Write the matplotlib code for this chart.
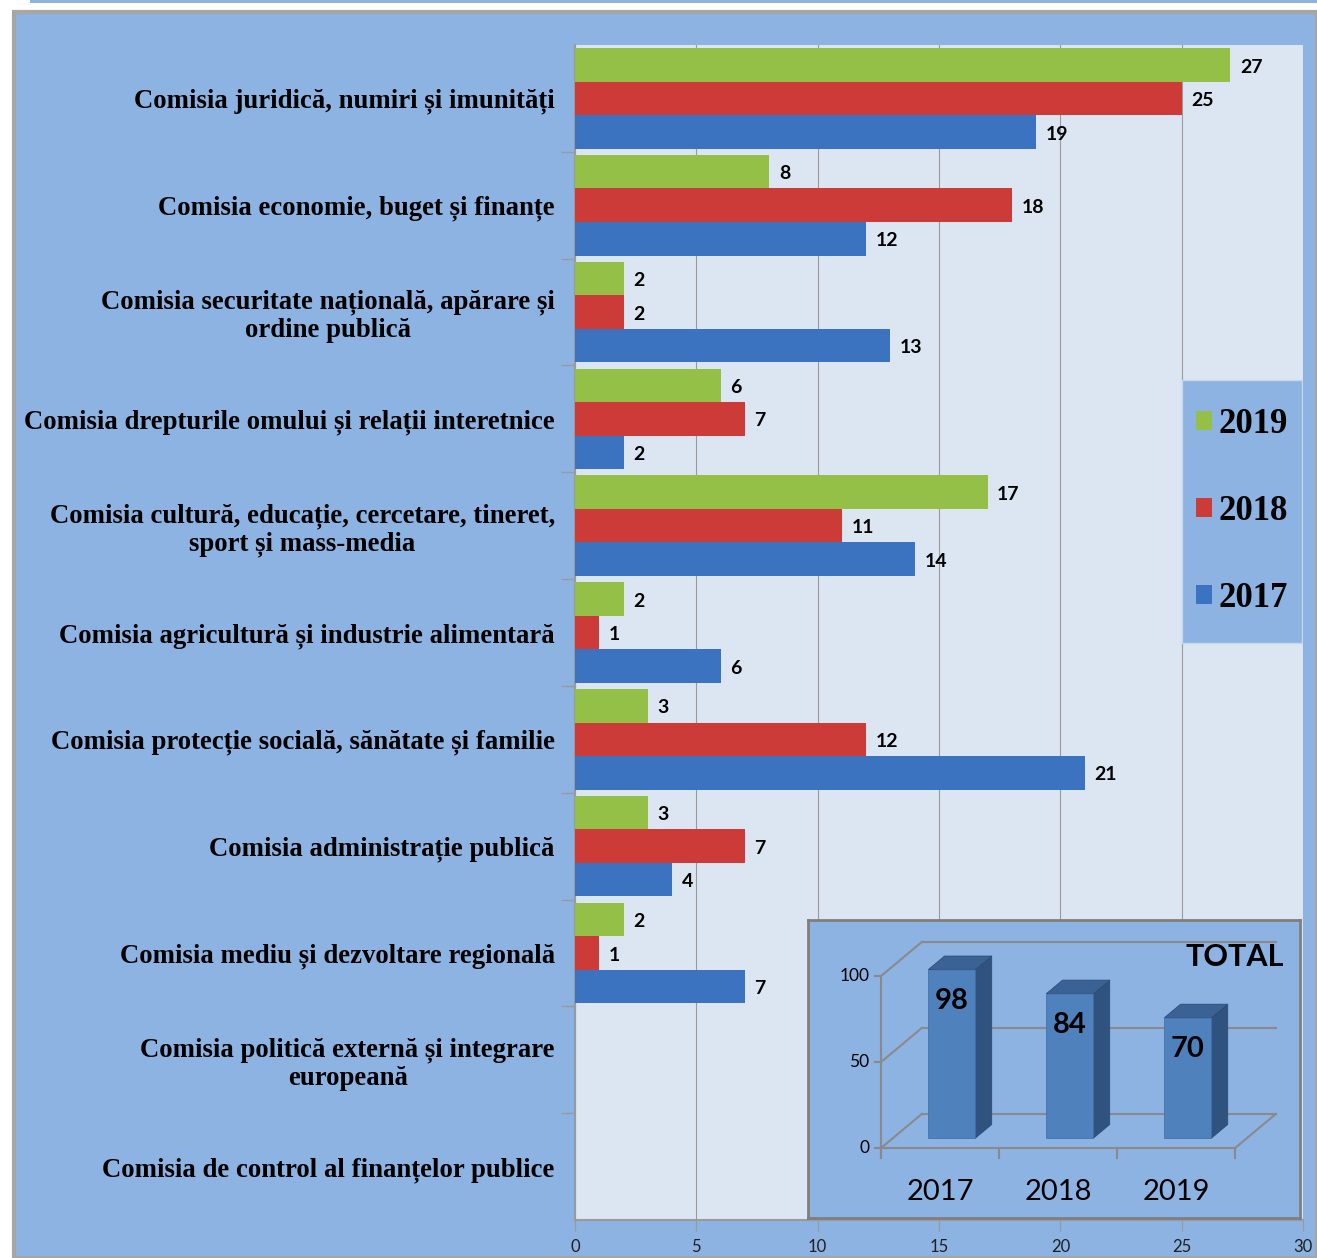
import numpy as np
import matplotlib.pyplot as plt
from matplotlib.patches import Rectangle, Polygon, Patch

W, H = 1317, 1258

committees = [
    "Comisia juridică, numiri și imunități",
    "Comisia economie, buget și finanțe",
    "Comisia securitate națională, apărare și\nordine publică",
    "Comisia drepturile omului și relații interetnice",
    "Comisia cultură, educație, cercetare, tineret,\nsport și mass-media",
    "Comisia agricultură și industrie alimentară",
    "Comisia protecție socială, sănătate și familie",
    "Comisia administrație publică",
    "Comisia mediu și dezvoltare regională",
    "Comisia politică externă și integrare\neuropeană",
    "Comisia de control al finanțelor publice",
]
v2019 = [27, 8, 2, 6, 17, 2, 3, 3, 2, 0, 0]
v2018 = [25, 18, 2, 7, 11, 1, 12, 7, 1, 0, 0]
v2017 = [19, 12, 13, 2, 14, 6, 21, 4, 7, 0, 0]

years = ["2017", "2018", "2019"]
totals = [98, 84, 70]

BG = '#8DB3E2'
PLOT_BG = '#DCE6F2'
GRID = '#9A9A9A'
colors = {'2019': '#94C047', '2018': '#CD3B38', '2017': '#3B73C0'}

fig = plt.figure(figsize=(W / 100, H / 100), dpi=100, facecolor='white')

# outer frame of the slide
fig.patches.append(Rectangle((14 / W, 0), 1 - 14 / W, (H - 12) / H, transform=fig.transFigure,
                             facecolor=BG, edgecolor='#A6A6A6', lw=3, zorder=-10))
fig.patches.append(Rectangle((30 / W, (H - 3) / H), 1, 3 / H, transform=fig.transFigure,
                             facecolor=BG, edgecolor='none', zorder=-10))

ax = fig.add_axes([575 / W, 1 - 1220 / H, 728 / W, 1175 / H])
ax.set_facecolor(PLOT_BG)

n = len(committees)
y = np.arange(n) + 0.5
bh = 0.314

series = [('2019', v2019, -bh), ('2018', v2018, 0), ('2017', v2017, bh)]
for name, vals, off in series:
    vals = np.array(vals, dtype=float)
    ax.barh(y + off, vals, height=bh, color=colors[name], edgecolor='none', zorder=3)
    for yi, v in zip(y + off, vals):
        if v > 0:
            ax.text(v + 0.4, yi + 0.02, f"{int(v)}", va='center', ha='left', fontsize=14,
                    fontweight='bold', family='Lato', zorder=4)

ax.set_xlim(0, 30)
ax.set_ylim(n, 0)
ax.set_xticks(np.arange(0, 31, 5))
ax.tick_params(axis='x', length=8, color=GRID, labelsize=12, pad=6, labelcolor='#202020')
for lab in ax.get_xticklabels():
    lab.set_family('Lato')
ax.grid(axis='x', color=GRID, lw=0.8, zorder=0)

ax.set_yticks(y)
ax.set_yticklabels(committees, family='Liberation Serif', fontweight='bold', fontsize=19.3,
                   multialignment='center', linespacing=1.15)
ax.tick_params(axis='y', length=0, pad=14.5)
ax.set_yticks(np.arange(1, n), minor=True)
ax.tick_params(axis='y', which='minor', length=10, color=GRID, width=1)

for s in ['top', 'right']:
    ax.spines[s].set_visible(False)
for s in ['left', 'bottom']:
    ax.spines[s].set_color(GRID)
    ax.spines[s].set_linewidth(1.5)

# legend box
lb = (0.834, 0.491, 0.165, 0.224)
ax.add_patch(Rectangle(lb[:2], lb[2], lb[3], transform=ax.transAxes, facecolor=BG,
                       edgecolor='#C8D6EA', lw=1, zorder=5))
handles = [Patch(facecolor=colors[k], edgecolor='none') for k in ['2019', '2018', '2017']]
leg = ax.legend(handles, ['2019', '2018', '2017'], loc='center', bbox_to_anchor=lb,
                prop={'family': 'Liberation Serif', 'weight': 'bold', 'size': 25},
                handlelength=0.45, handleheight=0.45, handletextpad=0.2,
                labelspacing=1.55, borderpad=0.2, frameon=False)
leg.set_zorder(6)

# inset: totals as pseudo-3D columns
ins = fig.add_axes([808 / W, 1 - 1218 / H, 492 / W, 298 / H], zorder=5)
ins.set_facecolor(BG)
ins.set_xlim(-0.619, 3.55)
ins.set_ylim(-40.7, 132.6)
ins.set_xticks([])
ins.set_yticks([])
for s in ins.spines.values():
    s.set_color('#7F7F7F')
    s.set_linewidth(2)

DX, DY = 0.345, 19.8
wall = dict(color='#8A8A8A', lw=1.5, zorder=1)
for v in [0, 50, 100]:
    ins.plot([0, DX], [v, v + DY], **wall)
    ins.plot([DX, 3 + DX], [v + DY, v + DY], **wall)
    ins.plot([0, -0.05], [v, v], **wall)
    ins.text(-0.1, v, str(v), ha='right', va='center', fontsize=12.5, family='Lato')
ins.plot([0, 0], [-6, 100], **wall)
ins.plot([0, 3], [0, 0], **wall)
ins.plot([3, 3 + DX], [0, DY], **wall)
for k in range(4):
    ins.plot([k, k], [0, -6], **wall)

f0, fd = 0.29, 0.4
bw = 0.4
for i, (yr, v) in enumerate(zip(years, totals)):
    cx = i + 0.5 + f0 * DX
    x0, x1 = cx - bw / 2, cx + bw / 2
    b = f0 * DY
    ddx, ddy = fd * DX, fd * DY
    ins.add_patch(Polygon([(x1, b), (x1 + ddx, b + ddy), (x1 + ddx, b + v + ddy), (x1, b + v)],
                          facecolor='#30527F', edgecolor='#2A4A75', lw=0.5, zorder=3))
    ins.add_patch(Polygon([(x0, b + v), (x1, b + v), (x1 + ddx, b + v + ddy), (x0 + ddx, b + v + ddy)],
                          facecolor='#3A6294', edgecolor='#2A4A75', lw=0.5, zorder=3))
    ins.add_patch(Rectangle((x0, b), bw, v, facecolor='#4F81BD', edgecolor='#3E6CA5', lw=0.5, zorder=3))
    ins.text(cx, b + v - 18, str(v), ha='center', va='center', fontsize=21, fontweight='bold',
             family='Lato', zorder=4)
    ins.text(i + 0.5, -25.4, yr, ha='center', va='center', fontsize=21, family='Lato')

ins.text(3.41, 111, "TOTAL", ha='right', va='center', fontsize=22, fontweight='bold', family='Lato')

fig.savefig('out.png', dpi=100, facecolor=fig.get_facecolor())
